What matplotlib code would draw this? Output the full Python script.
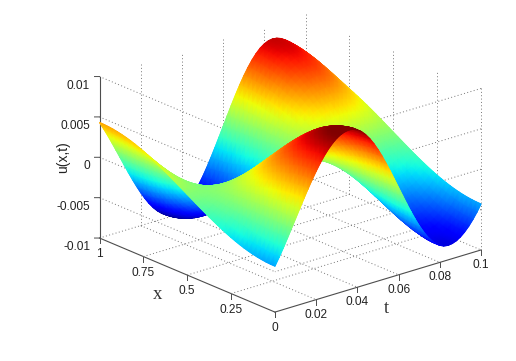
import numpy as np
import matplotlib
matplotlib.use("Agg")
import matplotlib.pyplot as plt
from matplotlib.axes import Axes
from mpl_toolkits.mplot3d import proj3d

# values (u = x_shape * t_shape)
x_values = [0.0, 0.025, 0.05, 0.075, 0.1, 0.125, 0.15, 0.175, 0.2, 0.225, 0.25, 0.275, 0.3, 0.325, 0.35, 0.375, 0.4,
            0.425, 0.45, 0.475, 0.5, 0.525, 0.55, 0.575, 0.6, 0.625, 0.65, 0.675, 0.7, 0.725, 0.75, 0.775, 0.8,
            0.825, 0.85, 0.875, 0.9, 0.925, 0.95, 0.975, 1.0]
x_shape = [-1.0, -0.997, -0.988, -0.972, -0.951, -0.924, -0.891, -0.853, -0.809, -0.76, -0.707, -0.649, -0.588,
           -0.522, -0.454, -0.383, -0.309, -0.233, -0.156, -0.078, 0.0, 0.078, 0.156, 0.233, 0.309, 0.383, 0.454,
           0.522, 0.588, 0.649, 0.707, 0.76, 0.809, 0.853, 0.891, 0.924, 0.951, 0.972, 0.988, 0.997, 1.0]
t_values = [0.0, 0.002, 0.004, 0.006, 0.008, 0.01, 0.012, 0.014, 0.016, 0.018, 0.02, 0.022, 0.024, 0.026, 0.028,
            0.03, 0.032, 0.034, 0.036, 0.038, 0.04, 0.042, 0.044, 0.046, 0.048, 0.05, 0.052, 0.054, 0.056, 0.058,
            0.06, 0.062, 0.064, 0.066, 0.068, 0.07, 0.072, 0.074, 0.076, 0.078, 0.08, 0.082, 0.084, 0.086, 0.088,
            0.09, 0.092, 0.094, 0.096, 0.098, 0.1]
t_shape = [4.31, 3.38, 2.39, 1.35, 0.28, -0.8, -1.88, -2.95, -3.99, -4.98, -5.91, -6.77, -7.54, -8.21, -8.77,
           -9.22, -9.54, -9.73, -9.8, -9.72, -9.49, -9.12, -8.59, -7.94, -7.16, -6.28, -5.3, -4.24, -3.13, -1.97,
           -0.8, 0.37, 1.53, 2.64, 3.7, 4.68, 5.56, 6.34, 6.99, 7.52, 7.89, 8.12, 8.2, 8.13, 7.94,
           7.62, 7.17, 6.61, 5.94, 5.17, 4.31]
x_ticks = [1, 0.75, 0.5, 0.25, 0]
x_tick_labels = ["1", "0.75", "0.5", "0.25", "0"]
t_ticks = [0, 0.02, 0.04, 0.06, 0.08, 0.1]
t_tick_labels = ["", "0.02", "0.04", "0.06", "0.08", "0.1"]
z_ticks = [-0.01, -0.005, 0, 0.005, 0.01]
z_tick_labels = ["-0.01", "-0.005", "0", "0.005", "0.01"]

W, H = 516, 361
fig = plt.figure(figsize=(W / 100, H / 100), dpi=100)
L0 = 500.0
ax = fig.add_axes([0, 0, L0 / W, L0 / H], projection="3d")
ax.patch.set_alpha(0)
ax.set_proj_type("ortho")
ax.view_init(elev=20.9, azim=-40.2)
ax.set_box_aspect((272, 270, 173))
ax.set_xlim(1, 0, view_margin=0)
ax.set_ylim(0, 0.1, view_margin=0)
ax.set_zlim(-0.01, 0.01, view_margin=0)
M = ax.get_proj()


def project(x, t, z):
    return proj3d.proj_transform(np.asarray(x, float), np.asarray(t, float), np.asarray(z, float), M)


# surface: smooth vertex colouring, triangles painted from far to near
X, T = np.meshgrid(np.array(x_values), np.array(t_values), indexing="ij")
Z = np.outer(x_shape, t_shape) * 1e-3
sx, sy, sz = project(X.ravel(), T.ravel(), Z.ravel())
nx, nt = X.shape
ids = np.arange(nx * nt).reshape(nx, nt)
a, b, c, d = ids[:-1, :-1].ravel(), ids[1:, :-1].ravel(), ids[1:, 1:].ravel(), ids[:-1, 1:].ravel()
tris = np.vstack([np.column_stack([a, b, c]), np.column_stack([a, c, d])])
tris = tris[np.argsort(-sz[tris].mean(axis=1))]
tris = np.repeat(tris, 2, axis=0)
mesh = Axes.tripcolor(ax, sx, sy, tris, Z.ravel(), shading="gouraud", cmap="jet", vmin=-0.0098, vmax=0.0094)
mesh.do_3d_projection = lambda: 0

ax.set_xticks(x_ticks)
ax.set_yticks(t_ticks)
ax.set_zticks(z_ticks)
ax.grid(False)
AXC = "#4d4d4d"
GRID = dict(color="#777777", linestyle=(0, (1, 2.45)), linewidth=0.7, zorder=1)
for axis in (ax.xaxis, ax.yaxis, ax.zaxis):
    axis.set_pane_color((1, 1, 1, 0))
    axis.pane.set_edgecolor("none")
    axis.line.set_color(AXC)
    axis.line.set_linewidth(0.8)
    axis._axinfo["tick"].update(inward_factor=0.0, outward_factor=0.0)
    axis.set_tick_params(label1On=False, label2On=False, width=0)
ax.zaxis.line.set_visible(False)

ZLO, ZHI = z_ticks[0], z_ticks[-1]
# z axis stands at the left corner
ax.plot([1, 1], [0, 0], [ZLO, ZHI], color=AXC, lw=0.8)
# horizontal grid lines sit on the two front walls
for v in z_ticks[1:]:
    ax.plot([1, 0], [0, 0], [v, v], **GRID)
    ax.plot([0, 0], [0.1, 0], [v, v], **GRID)
# vertical grid lines sit on the two back walls
for v in t_ticks[1:]:
    ax.plot([1, 1], [v, v], [ZLO, ZHI], **GRID)
for v in x_ticks[1:]:
    ax.plot([v, v], [0.1, 0.1], [ZLO, ZHI], **GRID)
# floor grid
for v in x_ticks[:-1]:
    ax.plot([v, v], [0, 0.1], [ZLO, ZLO], **GRID)
for v in t_ticks[1:]:
    ax.plot([1, 0], [v, v], [ZLO, ZLO], **GRID)

# tick marks: 5 px straight down on the floor axes, 5 px left on the z axis
DZ = 5 / 8100
for v in x_ticks:
    ax.plot([v, v], [0, 0], [ZLO, ZLO - DZ], color=AXC, lw=0.7)
for v in t_ticks:
    ax.plot([0, 0], [v, v], [ZLO, ZLO - DZ], color=AXC, lw=0.7)
for v in z_ticks:
    ax.plot([1, 1], [0, -5 / 2060], [v, v + 1.5 / 8100], color=AXC, lw=0.7)


def label(x, t, z, s, **kw):
    px, py, _ = project(x, t, z)
    return Axes.text(ax, float(px), float(py), s, **kw)


sans = dict(family="Liberation Sans", color="#222222")
serif = dict(family="Liberation Serif", color="#333333")
for v, s in zip(x_ticks, x_tick_labels):
    label(v, 0, -0.01198, s, ha="center", va="center", fontsize=8.6, **sans)
for v, s in zip(t_ticks, t_tick_labels):
    if s:
        label(0, v, -0.01185, s, ha="center", va="center", fontsize=8.6, **sans)
for v, s in zip(z_ticks, z_tick_labels):
    label(1, -0.0046, v - 0.00076, s, ha="right", va="center", fontsize=8.6, **sans)
label(0.667, 0, -0.01395, "x", ha="center", va="center", fontsize=13.5, **serif)
label(0, 0.0539, -0.01375, "t", ha="center", va="center", fontsize=13.5, **serif)
label(1, -0.0177, 0.00136, "u(x,t)", rotation=90, ha="center", va="center", fontsize=10, **sans)

# place the axes so that the floor corners land where they are in the reference
anchor3d = np.array([[1, 0, -0.01], [0, 0.1, -0.01]])
target = np.array([[99.5, H - 238.0], [481.0, H - 250.0]])


def corners():
    fig.canvas.draw()
    xs, ys, _ = project(anchor3d[:, 0], anchor3d[:, 1], anchor3d[:, 2])
    return ax.transData.transform(np.column_stack([xs, ys]))


p = corners()
L = L0 * (target[1, 0] - target[0, 0]) / (p[1, 0] - p[0, 0])
ax.set_position([0, 0, L / W, L / H])
p = corners()
off = (target - p).mean(axis=0)
ax.set_position([off[0] / W, off[1] / H, L / W, L / H])

fig.savefig("out.png", dpi=100)
